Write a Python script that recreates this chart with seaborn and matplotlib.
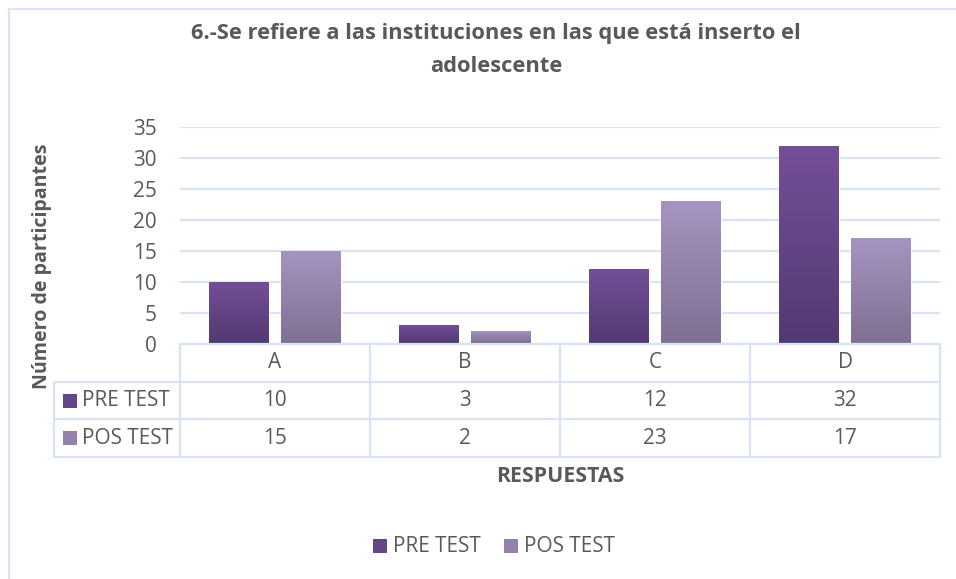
import numpy as np
import pandas as pd
import matplotlib
matplotlib.use('Agg')
import matplotlib.pyplot as plt
import seaborn as sns
from matplotlib.colors import LinearSegmentedColormap
from matplotlib.patches import Rectangle
from matplotlib.lines import Line2D

# data
respuestas = ['A', 'B', 'C', 'D']
pre_test = [10, 3, 12, 32]
pos_test = [15, 2, 23, 17]
series = ['PRE TEST', 'POS TEST']
title_lines = ['6.-Se refiere a las instituciones en las que está inserto el',
               'adolescente']
ylabel = 'Número de participantes'
xlabel = 'RESPUESTAS'

# gradient colours (top, bottom)
grad = {'PRE TEST': ('#744f98', '#523a72'),
        'POS TEST': ('#a594c0', '#807093')}
mid = {'PRE TEST': '#634588', 'POS TEST': '#9482ab'}
grid_c = '#d9e3f3'
txt_c = '#595959'

df = pd.DataFrame({'Respuesta': respuestas * 2,
                   'Grupo': [series[0]] * 4 + [series[1]] * 4,
                   'Valor': pre_test + pos_test})

sns.set_style('white')
plt.rcParams['font.family'] = ['Open Sans', 'DejaVu Sans']

W, H = 956, 579
def fx(px):
    return px / W
def fy(py):
    return 1 - py / H

fig = plt.figure(figsize=(W / 100, H / 100), dpi=100)
renderer = fig.canvas.get_renderer()

def size_for(text, width_px, bold=False):
    # font size that makes text about width_px wide
    t = fig.text(0, 0, text, fontsize=10, fontweight='bold' if bold else 'normal')
    w = t.get_window_extent(renderer).width
    t.remove()
    return 10 * width_px / w

fs = size_for('PRE TEST', 88)
fs_title = size_for(title_lines[0], 612, bold=True)
fs_ylab = size_for(ylabel, 246, bold=True)
fs_xlab = size_for(xlabel, 128, bold=True)

ax = fig.add_axes([fx(180), fy(343.5), fx(940) - fx(180), fy(127) - fy(343.5)])

sns.barplot(data=df, x='Respuesta', y='Valor', hue='Grupo', palette=mid,
            width=0.76, gap=0.18, legend=False, ax=ax, zorder=3)
ax.set_xlim(-0.5, 3.5)
ax.set_ylim(0, 35)
ax.set_yticks(range(0, 36, 5))
ax.yaxis.grid(True, color=grid_c, lw=1.6, zorder=0)
ax.set_axisbelow(True)
for s in ax.spines.values():
    s.set_visible(False)
ax.set_xticks([])
ax.set_xlabel('')
ax.set_ylabel('')
ax.tick_params(axis='y', length=0, pad=16.5, labelsize=fs, labelcolor=txt_c)

# gradient fill for bars
for i, p in enumerate(ax.patches):
    grp = series[0] if i < len(respuestas) else series[1]
    cmap = LinearSegmentedColormap.from_list('g', [grad[grp][1], grad[grp][0]])
    x0, y0 = p.get_x(), p.get_y()
    w, h = p.get_width(), p.get_height()
    im = ax.imshow(np.linspace(0, 1, 100).reshape(-1, 1), cmap=cmap, origin='lower',
                   extent=[x0, x0 + w, y0, y0 + h], aspect='auto', zorder=3)
    im.set_clip_path(p)
    p.set_facecolor('none')
ax.set_xlim(-0.5, 3.5)
ax.set_ylim(0, 35)

# data table below the plot
cols = [54, 180, 370, 560, 750, 940]
rows = [343.5, 382, 419, 457]
lines = []
for y in rows[1:]:
    lines.append(([cols[0], cols[-1]], [y, y]))
lines.append(([cols[1], cols[-1]], [rows[0], rows[0]]))
lines.append(([cols[0], cols[0]], [rows[1], rows[-1]]))
for x in cols[1:]:
    lines.append(([x, x], [rows[0], rows[-1]]))
for xs, ys in lines:
    fig.add_artist(Line2D([fx(v) for v in xs], [fy(v) for v in ys],
                          color=grid_c, lw=1.6, transform=fig.transFigure))

for j, cat in enumerate(respuestas):
    cx = (cols[j + 1] + cols[j + 2]) / 2
    fig.text(fx(cx), fy((rows[0] + rows[1]) / 2), cat, ha='center', va='center',
             fontsize=fs, color=txt_c)
    fig.text(fx(cx), fy((rows[1] + rows[2]) / 2), str(pre_test[j]), ha='center',
             va='center', fontsize=fs, color=txt_c)
    fig.text(fx(cx), fy((rows[2] + rows[3]) / 2), str(pos_test[j]), ha='center',
             va='center', fontsize=fs, color=txt_c)

for k, grp in enumerate(series):
    cy = (rows[k + 1] + rows[k + 2]) / 2
    fig.add_artist(Rectangle((fx(63), fy(cy + 7)), fx(14), 14 / H,
                             facecolor=mid[grp], edgecolor='none',
                             transform=fig.transFigure))
    fig.text(fx(82), fy(cy), grp, ha='left', va='center', fontsize=fs, color=txt_c)

# bottom legend
leg_x = [373, 504]
for k, grp in enumerate(series):
    fig.add_artist(Rectangle((fx(leg_x[k]), fy(553)), fx(14), 14 / H,
                             facecolor=mid[grp], edgecolor='none',
                             transform=fig.transFigure))
    fig.text(fx(leg_x[k] + 20), fy(546), grp, ha='left', va='center',
             fontsize=fs, color=txt_c)

# titles
for y, line in zip([33, 66], title_lines):
    fig.text(fx(496), fy(y), line, ha='center', va='center', fontsize=fs_title,
             fontweight='bold', color=txt_c)
fig.text(fx(42), fy(266), ylabel, rotation=90, ha='center',
         va='center', fontsize=fs_ylab, fontweight='bold', color=txt_c)
fig.text(fx(560), fy(477), xlabel, ha='center', va='center', fontsize=fs_xlab,
         fontweight='bold', color=txt_c)

# chart frame (top and left visible)
fig.add_artist(Line2D([fx(9), 1], [fy(9), fy(9)], color=grid_c, lw=1.6,
                      transform=fig.transFigure))
fig.add_artist(Line2D([fx(9), fx(9)], [fy(9), 0], color=grid_c, lw=1.6,
                      transform=fig.transFigure))

fig.savefig('out.png', dpi=100)
